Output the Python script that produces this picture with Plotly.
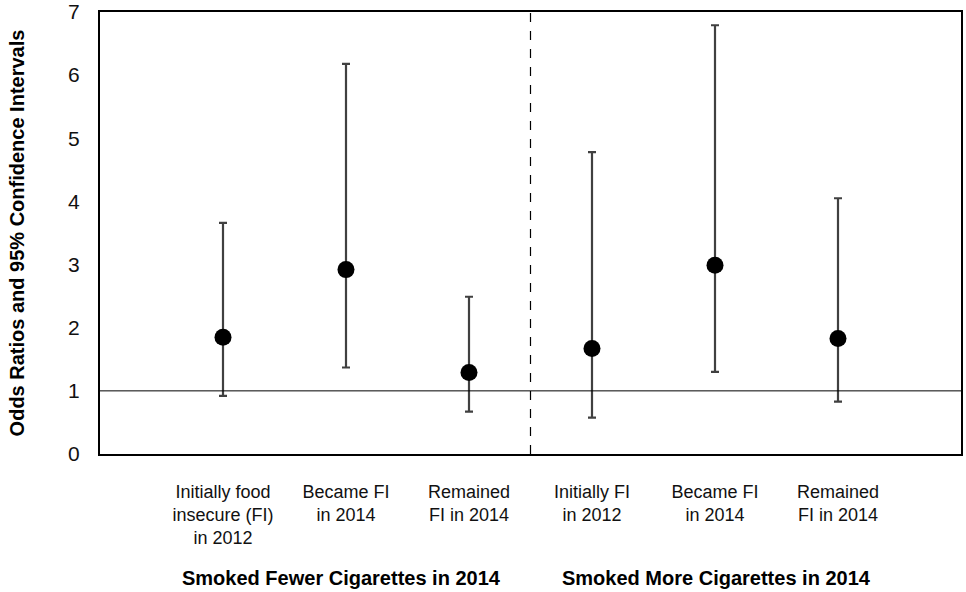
import plotly.graph_objects as go

categories = ["Initially food<br>insecure (FI)<br>in 2012", "Became FI<br>in 2014", "Remained<br>FI in 2014",
              "Initially FI<br>in 2012", "Became FI<br>in 2014", "Remained<br>FI in 2014"]
positions = [1, 2, 3, 4, 5, 6]
odds_ratio = [1.85, 2.92, 1.29, 1.67, 2.99, 1.83]
ci_upper = [3.66, 6.18, 2.49, 4.78, 6.79, 4.05]
ci_lower = [0.92, 1.37, 0.67, 0.575, 1.30, 0.83]
group_labels = ["Smoked Fewer Cigarettes in 2014", "Smoked More Cigarettes in 2014"]
group_centers = [1.96, 5.01]
y_ticks = [0, 1, 2, 3, 4, 5, 6, 7]

err_plus = [u - o for u, o in zip(ci_upper, odds_ratio)]
err_minus = [o - l for o, l in zip(odds_ratio, ci_lower)]

FONT = "Liberation Sans, Arial, sans-serif"

fig = go.Figure()
fig.add_trace(go.Scatter(
    x=positions, y=odds_ratio, mode="markers",
    marker=dict(size=17, color="black"),
    error_y=dict(type="data", symmetric=False, array=err_plus, arrayminus=err_minus,
                 color="#404040", thickness=2.2, width=4),
    showlegend=False, hoverinfo="skip",
))

# reference line at OR = 1
fig.add_shape(type="line", xref="paper", yref="y", x0=0, x1=1, y0=1, y1=1,
              line=dict(color="black", width=1))
# group divider
fig.add_shape(type="line", xref="x", yref="y", x0=3.5, x1=3.5, y0=0, y1=7,
              line=dict(color="black", width=1.2, dash="dash"))

for lab, cx in zip(group_labels, group_centers):
    fig.add_annotation(text="<b>" + lab + "</b>", x=cx, xref="x", y=-0.2805, yref="paper",
                       showarrow=False, xanchor="center", yanchor="middle",
                       font=dict(family=FONT, size=20, color="black"))

fig.update_layout(
    width=966, height=592,
    margin=dict(l=100, r=5, t=12, b=138, autoexpand=False),
    paper_bgcolor="white", plot_bgcolor="white",
    font=dict(family=FONT, color="black"),
    xaxis=dict(range=[0, 7], tickvals=positions, ticktext=categories, automargin=False,
               showgrid=False, zeroline=False, showline=True, linecolor="black",
               linewidth=2, mirror=True, ticks="", tickfont=dict(size=18, color="#111"),
               ticklabelstandoff=20),
    yaxis=dict(range=[0, 7], tickvals=y_ticks, showgrid=False, zeroline=False, automargin=False,
               showline=True, linecolor="black", linewidth=2, mirror=True, ticks="",
               tickfont=dict(size=21, color="#111"), ticklabelstandoff=14,
               title=dict(text="<b>Odds Ratios and 95% Confidence Intervals</b>",
                          font=dict(size=20, color="black"), standoff=38)),
)

fig.write_html("out.html", config={"displayModeBar": False},
               post_script="document.body.style.margin='0';")
